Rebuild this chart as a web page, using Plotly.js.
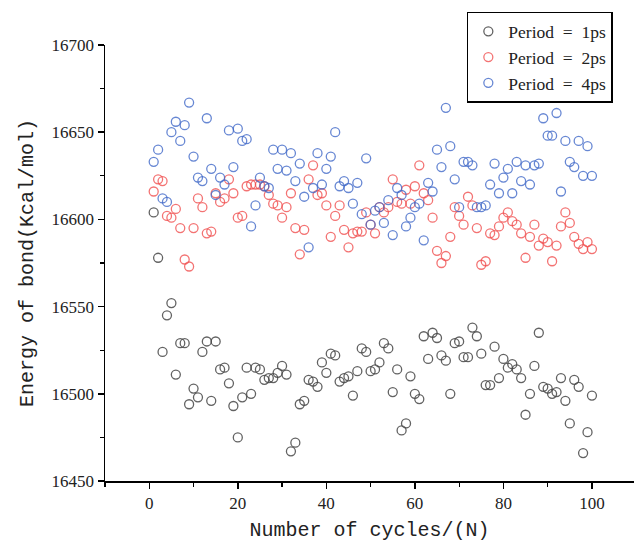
<!DOCTYPE html>
<html>
<head>
<meta charset="utf-8">
<script src="https://cdn.plot.ly/plotly-3.0.1.min.js"></script>
<style>html,body{margin:0;padding:0;background:#fff;}#chart{width:636px;height:544px;}</style>
</head>
<body>
<div id="chart"></div>
<script>
const cycles = Array.from({length: 100}, (_, i) => i + 1);

const period1ps = [
16604,16578,16524,16545,16552,16511,16529,16529,16494,16503,
16498,16524,16530,16496,16530,16514,16515,16506,16493,16475,
16498,16515,16500,16515,16514,16508,16509,16509,16512,16516,
16511,16467,16472,16494,16496,16508,16507,16504,16518,16512,
16523,16522,16507,16509,16510,16499,16513,16526,16524,16513,
16514,16518,16529,16526,16501,16514,16479,16483,16510,16500,
16497,16533,16520,16535,16532,16522,16519,16500,16529,16530,
16521,16521,16538,16533,16523,16505,16505,16527,16509,16520,
16515,16517,16514,16509,16488,16500,16516,16535,16504,16503,
16500,16501,16509,16496,16483,16508,16504,16466,16478,16499];

const period2ps = [
16616,16623,16622,16602,16601,16606,16595,16577,16573,16595,
16612,16607,16592,16593,16615,16610,16612,16623,16615,16601,
16602,16619,16620,16620,16620,16619,16614,16609,16608,16601,
16607,16615,16595,16580,16594,16623,16631,16614,16615,16608,
16590,16602,16608,16594,16584,16592,16593,16593,16604,16597,
16592,16607,16604,16607,16623,16610,16609,16617,16609,16619,
16631,16615,16611,16601,16582,16575,16579,16590,16607,16602,
16597,16613,16608,16595,16574,16576,16592,16591,16596,16601,
16604,16599,16597,16592,16578,16590,16597,16585,16589,16587,
16576,16585,16596,16604,16598,16590,16586,16583,16587,16583];

const period4ps = [
16633,16640,16612,16610,16650,16656,16645,16654,16667,16636,
16624,16622,16658,16629,16614,16624,16620,16651,16630,16652,
16645,16646,16596,16608,16624,16619,16618,16640,16629,16640,
16628,16638,16622,16632,16613,16584,16618,16638,16620,16629,
16636,16650,16619,16622,16618,16609,16621,16603,16635,16597,
16605,16607,16598,16611,16591,16618,16614,16596,16601,16607,
16609,16588,16621,16616,16640,16630,16664,16642,16623,16607,
16633,16633,16631,16607,16607,16608,16620,16632,16615,16624,
16629,16615,16633,16622,16631,16620,16631,16632,16658,16648,
16648,16661,16616,16645,16633,16630,16645,16625,16642,16625];

const seriesNames = ['Period\u2002=\u20021ps', 'Period\u2002=\u20022ps', 'Period\u2002=\u20024ps'];
const seriesColors = ['rgba(70,70,70,0.85)', 'rgba(240,80,80,0.8)', 'rgba(65,105,200,0.8)'];
const seriesValues = [period1ps, period2ps, period4ps];

const traces = seriesValues.map((vals, k) => ({
  type: 'scatter',
  mode: 'markers',
  x: cycles,
  y: vals,
  name: seriesNames[k],
  marker: {symbol: 'circle-open', size: 9, color: seriesColors[k], line: {width: 1.3, color: seriesColors[k]}}
}));

const axisFont = {family: 'Liberation Serif', size: 17, color: '#222'};
const titleFont = {family: 'Liberation Mono', size: 20, color: '#222'};

const layout = {
  width: 636, height: 544,
  margin: {l: 105, r: 2, t: 45, b: 63},
  paper_bgcolor: '#fff', plot_bgcolor: '#fff',
  showlegend: true,
  legend: {
    x: 0.684, y: 1.0757, xanchor: 'left', yanchor: 'top',
    bordercolor: '#000', borderwidth: 1.5, bgcolor: '#fff',
    font: {family: 'Liberation Serif', size: 17.5, color: '#222'},
    tracegroupgap: 0, itemwidth: 30
  },
  xaxis: {
    range: [-10, 109.5], showgrid: false, zeroline: false,
    showline: true, linecolor: '#000', linewidth: 1.5,
    ticks: 'outside', ticklen: 6, tickwidth: 1.5, tickcolor: '#000',
    tick0: 0, dtick: 20, tickfont: axisFont,
    minor: {ticks: 'outside', ticklen: 4, tickwidth: 1.2, tickcolor: '#000', dtick: 10, tick0: 0, showgrid: false},
    title: {text: 'Number of cycles/(N)', font: titleFont, standoff: 10}
  },
  yaxis: {
    range: [16450, 16700], showgrid: false, zeroline: false,
    showline: true, linecolor: '#000', linewidth: 1.5,
    ticks: 'outside', ticklen: 6, tickwidth: 1.5, tickcolor: '#000',
    tick0: 16450, dtick: 50, tickformat: 'd', tickfont: axisFont,
    minor: {ticks: 'outside', ticklen: 4, tickwidth: 1.2, tickcolor: '#000', dtick: 25, showgrid: false},
    title: {text: 'Energy of bond(Kcal/mol)', font: titleFont, standoff: 12}
  }
};

Plotly.newPlot('chart', traces, layout, {displayModeBar: false, staticPlot: true});
</script>
</body>
</html>
